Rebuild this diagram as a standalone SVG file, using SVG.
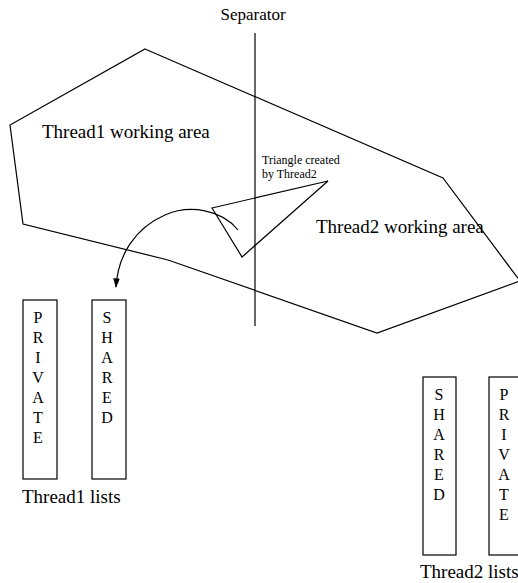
<svg xmlns="http://www.w3.org/2000/svg" width="518" height="583" viewBox="0 0 518 583">
  <style>
    .ln { fill: none; stroke: #000; stroke-width: 1.2; }
    .box { fill: #fff; stroke: #000; stroke-width: 1.2; }
    .t { font-family: "Liberation Serif", "Times New Roman", serif; fill: #000; }
    .big { font-size: 19px; }
    .mid { font-size: 17px; }
    .small { font-size: 12px; }
    .col { font-size: 16px; text-anchor: middle; }
  </style>
  <defs>
    <marker id="arrow" viewBox="0 0 10 10" refX="9" refY="5" markerWidth="8" markerHeight="8" orient="auto">
      <path d="M0,1.5 L10,5 L0,8.5 Z" fill="#000"/>
    </marker>
  </defs>

  <!-- working areas -->
  <g id="area">
    <polygon class="ln" points="145,49 443,178 520,281 377,333 168,260 23,224 10,125"/>
    <text class="t big" x="42" y="138">Thread1 working area</text>
    <text class="t big" x="316" y="233">Thread2 working area</text>
  </g>

  <!-- separator -->
  <g id="separator">
    <line class="ln" x1="255" y1="33" x2="255" y2="326"/>
    <text class="t mid" x="253" y="20" text-anchor="middle">Separator</text>
  </g>

  <!-- triangle -->
  <g id="triangle">
    <polygon class="ln" points="212,208 328,181 242,257"/>
    <text class="t small" x="262" y="164">Triangle created</text>
    <text class="t small" x="262" y="178">by Thread2</text>
  </g>

  <g id="connectors">
    <path class="ln" d="M238,230 C222,210 190,204 165,215 C135,228 118,255 116,287" marker-end="url(#arrow)"/>
  </g>

  <!-- thread 1 lists -->
  <g id="t1-private">
    <rect class="box" x="23" y="300" width="34" height="179"/>
    <text class="t col" x="38" y="323">P</text>
    <text class="t col" x="38" y="343">R</text>
    <text class="t col" x="38" y="363">I</text>
    <text class="t col" x="38" y="383">V</text>
    <text class="t col" x="38" y="403">A</text>
    <text class="t col" x="38" y="423">T</text>
    <text class="t col" x="38" y="443">E</text>
  </g>
  <g id="t1-shared">
    <rect class="box" x="92" y="300" width="34" height="179"/>
    <text class="t col" x="107" y="323">S</text>
    <text class="t col" x="107" y="343">H</text>
    <text class="t col" x="107" y="363">A</text>
    <text class="t col" x="107" y="383">R</text>
    <text class="t col" x="107" y="403">E</text>
    <text class="t col" x="107" y="423">D</text>
  </g>
  <text class="t big" x="22" y="503">Thread1 lists</text>

  <!-- thread 2 lists -->
  <g id="t2-shared">
    <rect class="box" x="423" y="377" width="33" height="178"/>
    <text class="t col" x="439" y="400">S</text>
    <text class="t col" x="439" y="420">H</text>
    <text class="t col" x="439" y="440">A</text>
    <text class="t col" x="439" y="460">R</text>
    <text class="t col" x="439" y="480">E</text>
    <text class="t col" x="439" y="500">D</text>
  </g>
  <g id="t2-private">
    <rect class="box" x="489" y="377" width="40" height="178"/>
    <text class="t col" x="504" y="400">P</text>
    <text class="t col" x="504" y="420">R</text>
    <text class="t col" x="504" y="440">I</text>
    <text class="t col" x="504" y="460">V</text>
    <text class="t col" x="504" y="480">A</text>
    <text class="t col" x="504" y="500">T</text>
    <text class="t col" x="504" y="520">E</text>
  </g>
  <text class="t big" x="420" y="578">Thread2 lists</text>
</svg>
